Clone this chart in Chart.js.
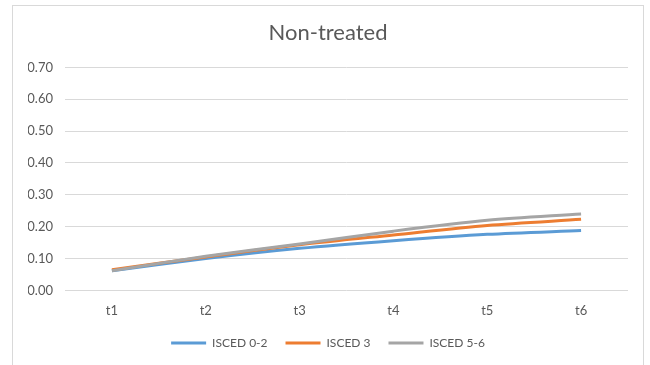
<!DOCTYPE html>
<html>
<head>
<meta charset="utf-8">
<script src="https://cdn.jsdelivr.net/npm/chart.js@4.4.1/dist/chart.umd.min.js"></script>
<style>
  html, body { margin: 0; padding: 0; background: #fff; }
  #wrap { width: 650px; height: 365px; position: relative; }
</style>
</head>
<body>
<div id="wrap"><canvas id="chart" width="650" height="365"></canvas></div>
<script>
// DATA
const categories = ['t1', 't2', 't3', 't4', 't5', 't6'];
const isced02 = [0.062, 0.100, 0.132, 0.156, 0.176, 0.188];
const isced3  = [0.065, 0.105, 0.143, 0.174, 0.204, 0.223];
const isced56 = [0.062, 0.107, 0.146, 0.186, 0.220, 0.240];
const seriesNames = ['ISCED 0-2', 'ISCED 3', 'ISCED 5-6'];
const yTicks = [0, 0.1, 0.2, 0.3, 0.4, 0.5, 0.6, 0.7];

const FONT = 'Lato, "Open Sans", sans-serif';
const TEXT = '#595959';

// frame around the chart, like the Excel chart area border;
// also lifts the legend a little (its padding is shared by both directions)
const framePlugin = {
  id: 'frame',
  beforeDraw(chart) {
    const ctx = chart.ctx;
    ctx.save();
    ctx.fillStyle = '#fff';
    ctx.fillRect(0, 0, chart.width, chart.height);
    ctx.strokeStyle = '#d9d9d9';
    ctx.lineWidth = 1;
    ctx.strokeRect(12.5, 5.5, 631, 380);
    ctx.restore();
    if (chart.legend && !chart.legend._lifted) {
      chart.legend.top -= 13;
      chart.legend.bottom -= 13;
      chart.legend._lifted = true;
    }
  }
};

function makeSet(label, data, color, order) {
  return { label, data, borderColor: color, backgroundColor: color, borderWidth: 3, pointRadius: 0, pointHoverRadius: 0, tension: 0.3, fill: false, order };
}

new Chart(document.getElementById('chart').getContext('2d'), {
  type: 'line',
  data: {
    labels: categories,
    datasets: [
      makeSet(seriesNames[0], isced02, '#5B9BD5', 3),
      makeSet(seriesNames[1], isced3, '#ED7D31', 2),
      makeSet(seriesNames[2], isced56, '#A5A5A5', 1)
    ]
  },
  plugins: [framePlugin],
  options: {
    responsive: false,
    animation: false,
    layout: { padding: { left: 28, right: 22, top: 0, bottom: -7 } },
    plugins: {
      title: { display: true, text: 'Non-treated', color: TEXT, font: { family: FONT, size: 22, weight: 'normal' }, padding: { top: 20, bottom: 21 } },
      legend: {
        position: 'bottom',
        labels: {
          color: TEXT, font: { family: FONT, size: 12 },
          boxWidth: 35, boxHeight: 3, padding: 18,
          generateLabels(chart) {
            return chart.data.datasets.map((ds, i) => ({ text: ds.label, fillStyle: ds.borderColor, strokeStyle: ds.borderColor, lineWidth: 0, datasetIndex: i, fontColor: TEXT }));
          }
        }
      },
      tooltip: { enabled: false }
    },
    scales: {
      x: {
        offset: true,
        grid: { display: false, drawTicks: false },
        border: { display: false },
        ticks: { color: TEXT, font: { family: FONT, size: 13 }, padding: 13 }
      },
      y: {
        min: 0, max: 0.7,
        afterBuildTicks(scale) { scale.ticks = yTicks.map(v => ({ value: v })); },
        afterFit(scale) { scale.width = 37; },
        grid: { color: '#d9d9d9', drawTicks: false },
        border: { display: false },
        ticks: { color: TEXT, font: { family: FONT, size: 13 }, padding: 12, callback: v => v.toFixed(2) }
      }
    }
  }
});
</script>
</body>
</html>
